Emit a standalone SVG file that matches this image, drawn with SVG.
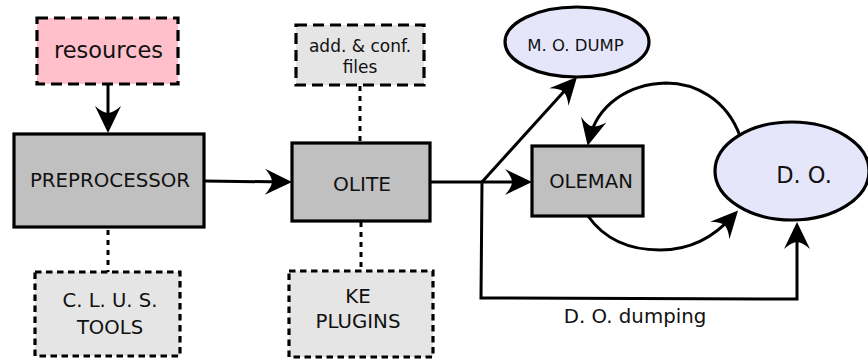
<svg xmlns="http://www.w3.org/2000/svg" width="868" height="360" viewBox="0 0 868 360">
  <defs>
    <!-- concave arrowhead; its tip sits 6px past the path end -->
    <marker id="arrow" markerUnits="userSpaceOnUse" viewBox="-24 -14 32 28" markerWidth="32" markerHeight="28" refX="0" refY="0" orient="auto" overflow="visible">
      <path d="M6,0 L-21,-13 Q-14,-5 -14,0 Q-14,5 -21,13 Z" fill="#000"/>
    </marker>
  </defs>
  <style>
    text { font-family: "DejaVu Sans", "Liberation Sans", sans-serif; fill: #111; text-anchor: middle; }
    .proc { fill: #c0c0c0; stroke: #000; stroke-width: 3.2; }
    .input { fill: #ffc0cb; stroke: #000; stroke-width: 3.2; stroke-dasharray: 11 6; }
    .aux { fill: #e5e5e5; stroke: #000; stroke-width: 3.2; stroke-dasharray: 11 6; }
    .tool { fill: #e5e5e5; stroke: #000; stroke-width: 3.2; stroke-dasharray: 6.5 4.5; }
    .data { fill: #e6e6fa; stroke: #000; stroke-width: 3.2; }
    .flow { fill: none; stroke: #000; stroke-width: 3; }
    .arrowed { marker-end: url(#arrow); }
    .dotted { fill: none; stroke: #000; stroke-width: 3; stroke-dasharray: 5 5; }
  </style>

  <!-- connectors -->
  <g id="connectors">
    <path class="flow arrowed" d="M108,85 L108,127"/>
    <path class="flow arrowed" d="M204,181 L286,182"/>
    <path class="flow" d="M430,182 L482,182"/>
    <path class="flow arrowed" d="M482,182 L526,182"/>
    <path class="flow arrowed" d="M482,182 L573,81.5"/>
    <path class="flow arrowed" d="M482,182 L481,298 L797,299 L797,228"/>
    <path class="flow arrowed" d="M740,136 C726,98 694,83 666,83 C628,84 597,105 589,140"/>
    <path class="flow arrowed" d="M588,216 C605,240 630,250 660,250 C690,250 713,238 734,215"/>
    <path class="dotted" d="M108,230 L108,272"/>
    <path class="dotted" d="M360,86 L360,142"/>
    <path class="dotted" d="M361,222 L361,271"/>
  </g>

  <g id="resources">
    <rect class="input" x="37" y="18" width="141" height="66"/>
    <text x="108.5" y="58" font-size="22.5">resources</text>
  </g>

  <g id="preprocessor">
    <rect class="proc" x="14" y="134" width="190" height="93"/>
    <text x="110" y="187" font-size="19.8">PREPROCESSOR</text>
  </g>

  <g id="clus-tools">
    <rect class="tool" x="35" y="272" width="145" height="84"/>
    <text x="110" y="307" font-size="19.6">C. L. U. S.</text>
    <text x="110" y="334" font-size="19.6">TOOLS</text>
  </g>

  <g id="conf-files">
    <rect class="aux" x="296" y="25" width="128" height="60"/>
    <text x="360" y="52" font-size="17">add. &amp; conf.</text>
    <text x="360" y="73" font-size="17">files</text>
  </g>

  <g id="olite">
    <rect class="proc" x="292" y="143" width="138" height="78"/>
    <text x="362" y="191" font-size="20.2">OLITE</text>
  </g>

  <g id="ke-plugins">
    <rect class="tool" x="289" y="271" width="144" height="86"/>
    <text x="358" y="303" font-size="19.8">KE</text>
    <text x="358" y="328" font-size="19.8">PLUGINS</text>
  </g>

  <g id="mo-dump">
    <ellipse class="data" cx="577" cy="42" rx="72" ry="35"/>
    <text x="575.5" y="51" font-size="16.5">M. O. DUMP</text>
  </g>

  <g id="oleman">
    <rect class="proc" x="532" y="146" width="111" height="70"/>
    <text x="591" y="188" font-size="19.6">OLEMAN</text>
  </g>

  <g id="do">
    <ellipse class="data" cx="792" cy="171" rx="77" ry="49"/>
    <text x="804" y="183" font-size="22.5">D. O.</text>
  </g>

  <g id="do-dumping-label">
    <text x="635" y="323" font-size="19.8">D. O. dumping</text>
  </g>
</svg>
